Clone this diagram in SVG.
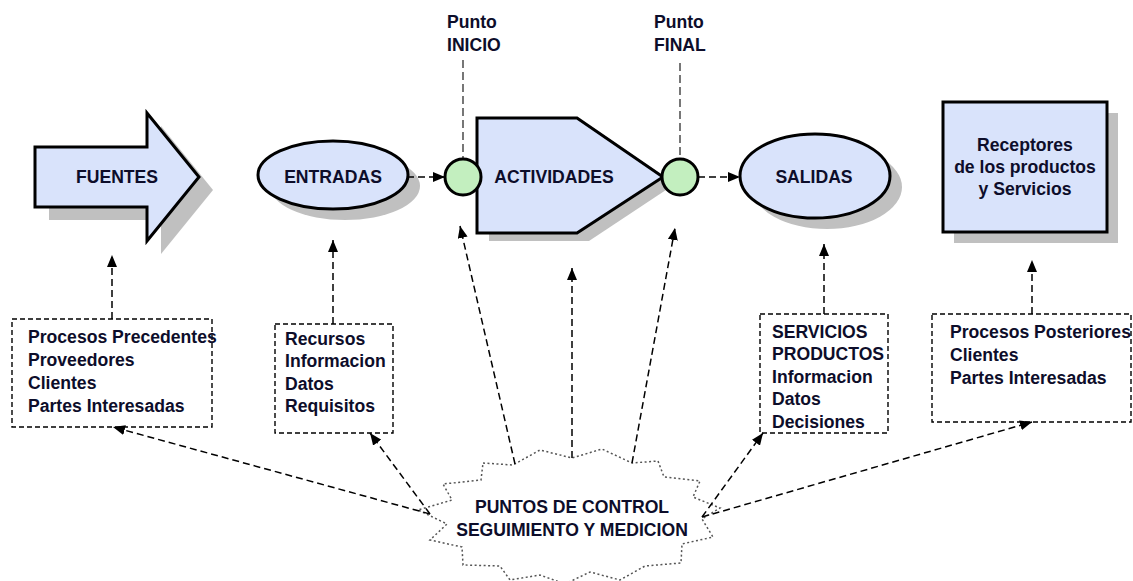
<svg xmlns="http://www.w3.org/2000/svg" width="1133" height="581" viewBox="0 0 1133 581">
<defs>
<marker id="ah" viewBox="0 0 12 10" refX="12" refY="5" markerWidth="12" markerHeight="10" markerUnits="userSpaceOnUse" orient="auto">
<path d="M0,0 L12,5 L0,10 Z" fill="#000"/>
</marker>
<style>
.shape{fill:#d9e3fb;stroke:#000;stroke-width:3;stroke-linejoin:miter}
.shadow{fill:#c0c0c0}
.dot{fill:#c3efbf;stroke:#000;stroke-width:3}
.t{font-family:"Liberation Sans",Arial,sans-serif;font-weight:bold;font-size:17.6px;fill:#0d0d2a}
.box{fill:#fff;stroke:#000;stroke-width:1.4;stroke-dasharray:5,3}
.conn{fill:none;stroke:#000;stroke-width:1.5;stroke-dasharray:7,4}
.vline{fill:none;stroke:#555;stroke-width:1.6;stroke-dasharray:8,4}
</style>
</defs>
<rect width="1133" height="581" fill="#fff"/>

<g id="fuentes">
<path class="shadow" d="M49,160 H161 V126 L213,190 L161,254 V220 H49 Z"/>
<path class="shape" d="M35,147 H147 V113 L199,177 L147,241 V207 H35 Z"/>
<text class="t" x="117" y="183" text-anchor="middle">FUENTES</text>
</g>

<g id="entradas">
<ellipse class="shadow" cx="345" cy="186" rx="75" ry="34"/>
<ellipse class="shape" cx="333" cy="175" rx="75" ry="34"/>
<text class="t" x="333" y="183" text-anchor="middle">ENTRADAS</text>
</g>

<g id="actividades">
<path class="shadow" d="M489,125 H589 L675,184 L589,241 H489 Z"/>
<path class="shape" d="M477,118 H577 L663,177 L577,233 H477 Z"/>
<text class="t" x="554" y="183" text-anchor="middle">ACTIVIDADES</text>
</g>

<g id="inicio">
<text class="t" x="447" y="28">Punto</text>
<text class="t" x="447" y="51">INICIO</text>
<line class="vline" x1="463" y1="60" x2="463" y2="159"/>
<circle class="dot" cx="463" cy="177" r="18"/>
</g>

<g id="final">
<text class="t" x="654" y="28">Punto</text>
<text class="t" x="654" y="51">FINAL</text>
<line class="vline" x1="680" y1="63" x2="680" y2="159"/>
<circle class="dot" cx="680" cy="177" r="18"/>
</g>

<g id="salidas">
<ellipse class="shadow" cx="827" cy="187" rx="75" ry="42"/>
<ellipse class="shape" cx="815" cy="176" rx="75" ry="42"/>
<text class="t" x="814" y="183" text-anchor="middle">SALIDAS</text>
</g>

<g id="receptores">
<rect class="shadow" x="954" y="113" width="164" height="130"/>
<rect class="shape" x="943" y="102" width="164" height="130"/>
<text class="t" x="1025" y="151" text-anchor="middle">Receptores</text>
<text class="t" x="1025" y="173" text-anchor="middle">de los productos</text>
<text class="t" x="1025" y="195" text-anchor="middle">y Servicios</text>
</g>

<g id="box-precedentes">
<rect class="box" x="12" y="319" width="200" height="108"/>
<text class="t" x="28" y="343">Procesos Precedentes</text>
<text class="t" x="28" y="366">Proveedores</text>
<text class="t" x="28" y="389">Clientes</text>
<text class="t" x="28" y="412">Partes Interesadas</text>
</g>

<g id="box-recursos">
<rect class="box" x="275" y="324" width="118" height="109"/>
<text class="t" x="285" y="345">Recursos</text>
<text class="t" x="285" y="367">Informacion</text>
<text class="t" x="285" y="390">Datos</text>
<text class="t" x="285" y="412">Requisitos</text>
</g>

<g id="box-servicios">
<rect class="box" x="760" y="314" width="128" height="119"/>
<text class="t" x="772" y="338">SERVICIOS</text>
<text class="t" x="772" y="360">PRODUCTOS</text>
<text class="t" x="772" y="383">Informacion</text>
<text class="t" x="772" y="405">Datos</text>
<text class="t" x="772" y="428">Decisiones</text>
</g>

<g id="box-posteriores">
<rect class="box" x="932" y="314" width="199" height="108"/>
<text class="t" x="950" y="338">Procesos Posteriores</text>
<text class="t" x="950" y="361">Clientes</text>
<text class="t" x="950" y="384">Partes Interesadas</text>
</g>

<g id="control">
<polygon fill="#fff" stroke="#555" stroke-width="1.5" stroke-dasharray="2,2.5" points="483,463 513,465 540,450 572,458 602,449 632,463 658,461 664,477 700,481 693,497 720,508 702,519 713,537 682,544 681,563 645,566 620,580 590,572 565,584 540,575 510,580 500,566 463,565 462,547 430,540 447,524 418,510 452,500 443,484 481,480"/>
<text class="t" x="572" y="513" text-anchor="middle">PUNTOS DE CONTROL</text>
<text class="t" x="572" y="536" text-anchor="middle">SEGUIMIENTO Y MEDICION</text>
</g>

<g id="connectors">
<line class="conn" x1="407" y1="177" x2="445" y2="177" marker-end="url(#ah)"/>
<line class="conn" x1="698" y1="177" x2="740" y2="177" marker-end="url(#ah)"/>
<polyline class="conn" points="112,319 112,255" marker-end="url(#ah)"/>
<polyline class="conn" points="333,324 333,240" marker-end="url(#ah)"/>
<polyline class="conn" points="824,314 824,244" marker-end="url(#ah)"/>
<polyline class="conn" points="1032,314 1032,260" marker-end="url(#ah)"/>
<line class="conn" x1="430" y1="514" x2="113" y2="427" marker-end="url(#ah)"/>
<line class="conn" x1="430" y1="514" x2="370" y2="433" marker-end="url(#ah)"/>
<line class="conn" x1="515" y1="464" x2="460" y2="226" marker-end="url(#ah)"/>
<line class="conn" x1="572" y1="458" x2="572" y2="268" marker-end="url(#ah)"/>
<line class="conn" x1="632" y1="463" x2="675" y2="228" marker-end="url(#ah)"/>
<line class="conn" x1="702" y1="517" x2="763" y2="433" marker-end="url(#ah)"/>
<line class="conn" x1="702" y1="517" x2="1032" y2="422" marker-end="url(#ah)"/>
</g>
</svg>
